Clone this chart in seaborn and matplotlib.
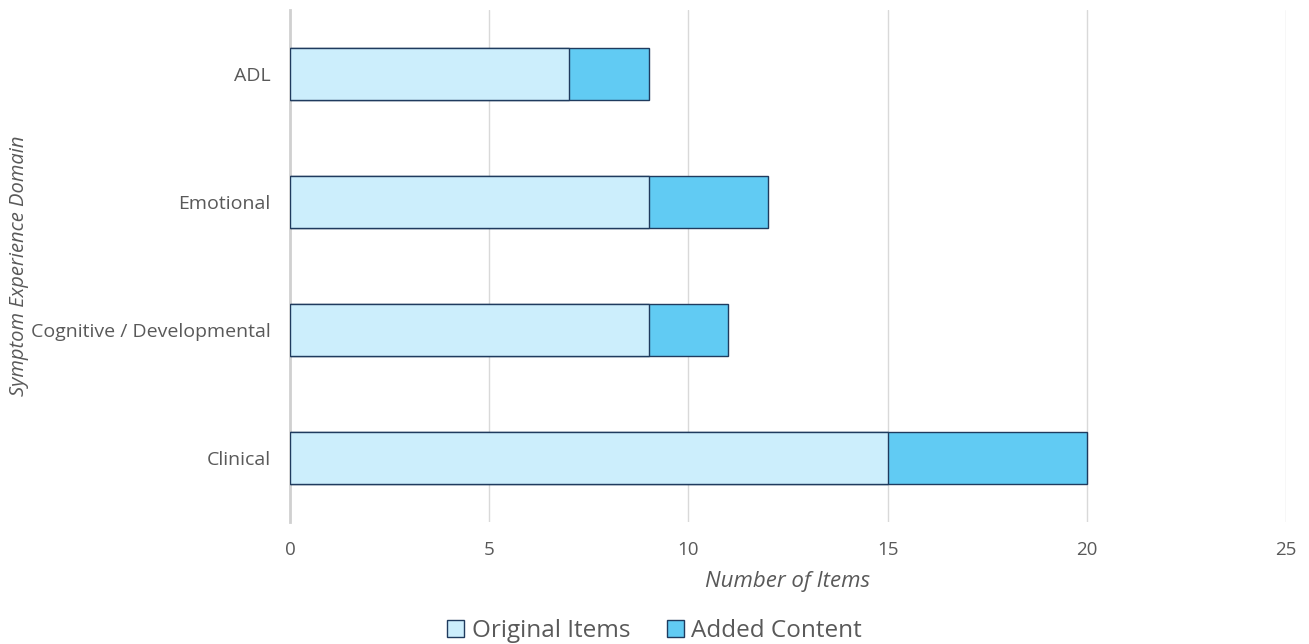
import matplotlib
matplotlib.use("Agg")
import matplotlib.pyplot as plt
from matplotlib.patches import Patch
import seaborn as sns
import pandas as pd

domains = ["ADL", "Emotional", "Cognitive / Developmental", "Clinical"]
original_items = [7, 9, 9, 15]
added_content = [2, 3, 2, 5]
x_ticks = [0, 5, 10, 15, 20, 25]

color_original = "#CCEEFC"
color_added = "#61CBF3"
edge_color = "#1F3B5E"
text_color = "#595959"

sns.set_theme(style="white")
plt.rcParams["font.family"] = ["Open Sans", "DejaVu Sans"]

df = pd.DataFrame({
    "domain": domains,
    "original": original_items,
    "total": [o + a for o, a in zip(original_items, added_content)],
})

fig = plt.figure(figsize=(13.09, 6.44), dpi=100)
ax = fig.add_axes([0.2215, 0.1894, 0.9824 - 0.2215, 0.9845 - 0.1894])

# stacked bars: totals first, original portion drawn over them
sns.barplot(data=df, y="domain", x="total", orient="h", color=color_added,
            saturation=1, width=0.406, edgecolor=edge_color, linewidth=1.0,
            ax=ax, zorder=3)
sns.barplot(data=df, y="domain", x="original", orient="h", color=color_original,
            saturation=1, width=0.406, edgecolor=edge_color, linewidth=1.0,
            ax=ax, zorder=4)

ax.set_xlim(0, 25)
ax.set_ylim(3.5, -0.5)
ax.set_xticks(x_ticks)
ax.set_xticklabels([str(t) for t in x_ticks])
ax.xaxis.grid(True, color="#D9D9D9", linewidth=1.0, zorder=0)
ax.yaxis.grid(False)
ax.set_axisbelow(True)
for side in ["top", "right", "bottom"]:
    ax.spines[side].set_visible(False)
ax.spines["left"].set_color("#D0D0D0")
ax.spines["left"].set_linewidth(2)
ax.tick_params(axis="x", length=0, labelsize=13.5, labelcolor=text_color, pad=14)
ax.tick_params(axis="y", length=0, labelsize=14, labelcolor=text_color, pad=14)

ax.set_xlabel("Number of Items", fontsize=16, fontstyle="italic",
              color=text_color, labelpad=8)
ax.set_ylabel("Symptom Experience Domain", fontsize=14.5, fontstyle="italic",
              color=text_color)
ax.yaxis.set_label_coords(-0.262, 0.50)

handles = [
    Patch(facecolor=color_original, edgecolor=edge_color, linewidth=1.0, label="Original Items"),
    Patch(facecolor=color_added, edgecolor=edge_color, linewidth=1.0, label="Added Content"),
]
fig.legend(handles=handles, loc="center", bbox_to_anchor=(0.5, 0.02), ncol=2,
           frameon=False, fontsize=17.5, labelcolor=text_color,
           handlelength=0.7, handleheight=0.7, handletextpad=0.3, columnspacing=1.5)

fig.savefig("out.png", dpi=100)
